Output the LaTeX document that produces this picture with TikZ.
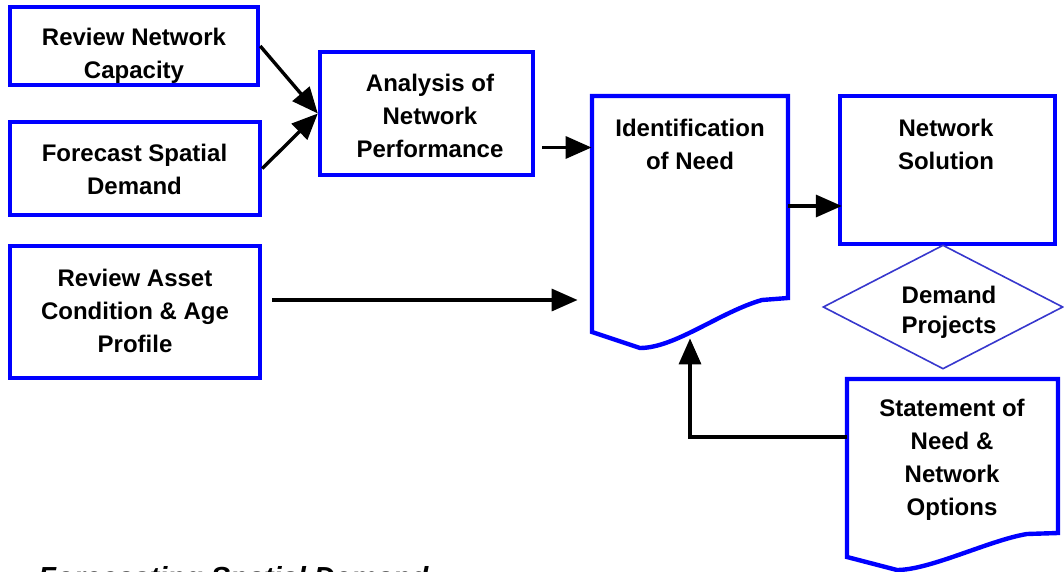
\documentclass[tikz,border=0pt]{standalone}
\usepackage{fontspec}
\setmainfont{Liberation Sans}
\usetikzlibrary{arrows.meta, positioning, shapes.geometric, calc}

\definecolor{boxblue}{RGB}{0,0,255}
\definecolor{diablue}{RGB}{55,55,205}

\begin{document}
\begin{tikzpicture}[x=0.5pt, y=-0.5pt,
		blk/.style={draw=boxblue, line width=2.2pt, inner sep=0pt},
		txt/.style={font=\fontsize{12}{16.5}\selectfont\bfseries, align=center, inner sep=0pt},
		flow/.style={line width=1.7pt, -{Triangle[length=13pt,width=11pt]}}]
		
		\useasboundingbox (0,0) rectangle (1064,572);
		
		% Input boxes
		\node[blk, minimum width=124pt, minimum height=39pt] (rnc) at (134,46) {};
		\node[blk, minimum width=125pt, minimum height=46.5pt] (fsd) at (135,168.5) {};
		\node[blk, minimum width=125pt, minimum height=66pt] (rac) at (135,312) {};
		\node[blk, minimum width=106.5pt, minimum height=61.5pt] (anp) at (426.5,113.5) {};
		\node[blk, minimum width=107.5pt, minimum height=74pt] (fns) at (947.5,170) {};
		
		% Documents
		\node[minimum width=98pt, minimum height=101pt, inner sep=0pt] (ion) at (690,197) {};
		\draw[blk] (592,96) -- (788,96) -- (788,298) -- (762,300)
		.. controls (720,312) and (675,348) .. (640,348) -- (592,332) -- cycle;
		\node[minimum width=105.5pt, minimum height=77pt, inner sep=0pt] (sno) at (952.5,456) {};
		\draw[blk] (847,379) -- (1058,379) -- (1058,533) -- (1027,534)
		.. controls (990,540) and (930,570) .. (897,570) -- (847,557) -- cycle;
		
		% Decision
		\node[diamond, draw=diablue, line width=0.8pt, inner sep=0pt,
		minimum width=120pt, minimum height=62pt] (dmp) at (943,307) {};
		
		% Labels
		\node[txt] (rncT) at (134,56) {Review Network\\Capacity};
		\node[txt] (fsdT) at (134.5,169) {Forecast Spatial\\Demand};
		\node[txt] (racT) at (135,311) {Review Asset\\Condition \& Age\\Profile};
		\node[txt] (anpT) at (430,116) {Analysis of\\Network\\Performance};
		\node[txt] (ionT) at (690,144) {Identification\\of Need};
		\node[txt] (fnsT) at (946,144) {Network\\Solution};
		\node[txt, font=\fontsize{12}{15}\selectfont\bfseries] (dmpT) at (949,312) {Demand\\Projects};
		\node[txt] (snoT) at (952,460) {Statement of\\Need \&\\Network\\Options};
		
		% Caption, cut off by the page
		\node[anchor=base west, inner sep=0pt, font=\fontsize{14.5}{17}\selectfont\bfseries\itshape] (cap) at (38,587) {Forecasting Spatial Demand};
		
		% Flow arrows
		\draw[flow] (rnc.east) -- (anp.west);
		\draw[flow] (fsd.east) -- (anp.west);
		\coordinate (dOut) at ([xshift=3.5pt,yshift=-17pt]anp.east);
		\draw[flow] (dOut) -- (dOut -| ion.west);
		\coordinate (cOut) at ([xshift=5pt,yshift=6pt]rac.east);
		\draw[flow] (cOut) -- ([xshift=-7pt]cOut -| ion.west);
		\coordinate (eOut) at ([yshift=-4.5pt]ion.east);
		\draw[flow] (eOut) -- ([xshift=2pt]eOut -| fns.west);
		\draw[flow] ([yshift=9.5pt]sno.west) -| ([yshift=-20pt]ion.south);
		
	\end{tikzpicture}
\end{document}
